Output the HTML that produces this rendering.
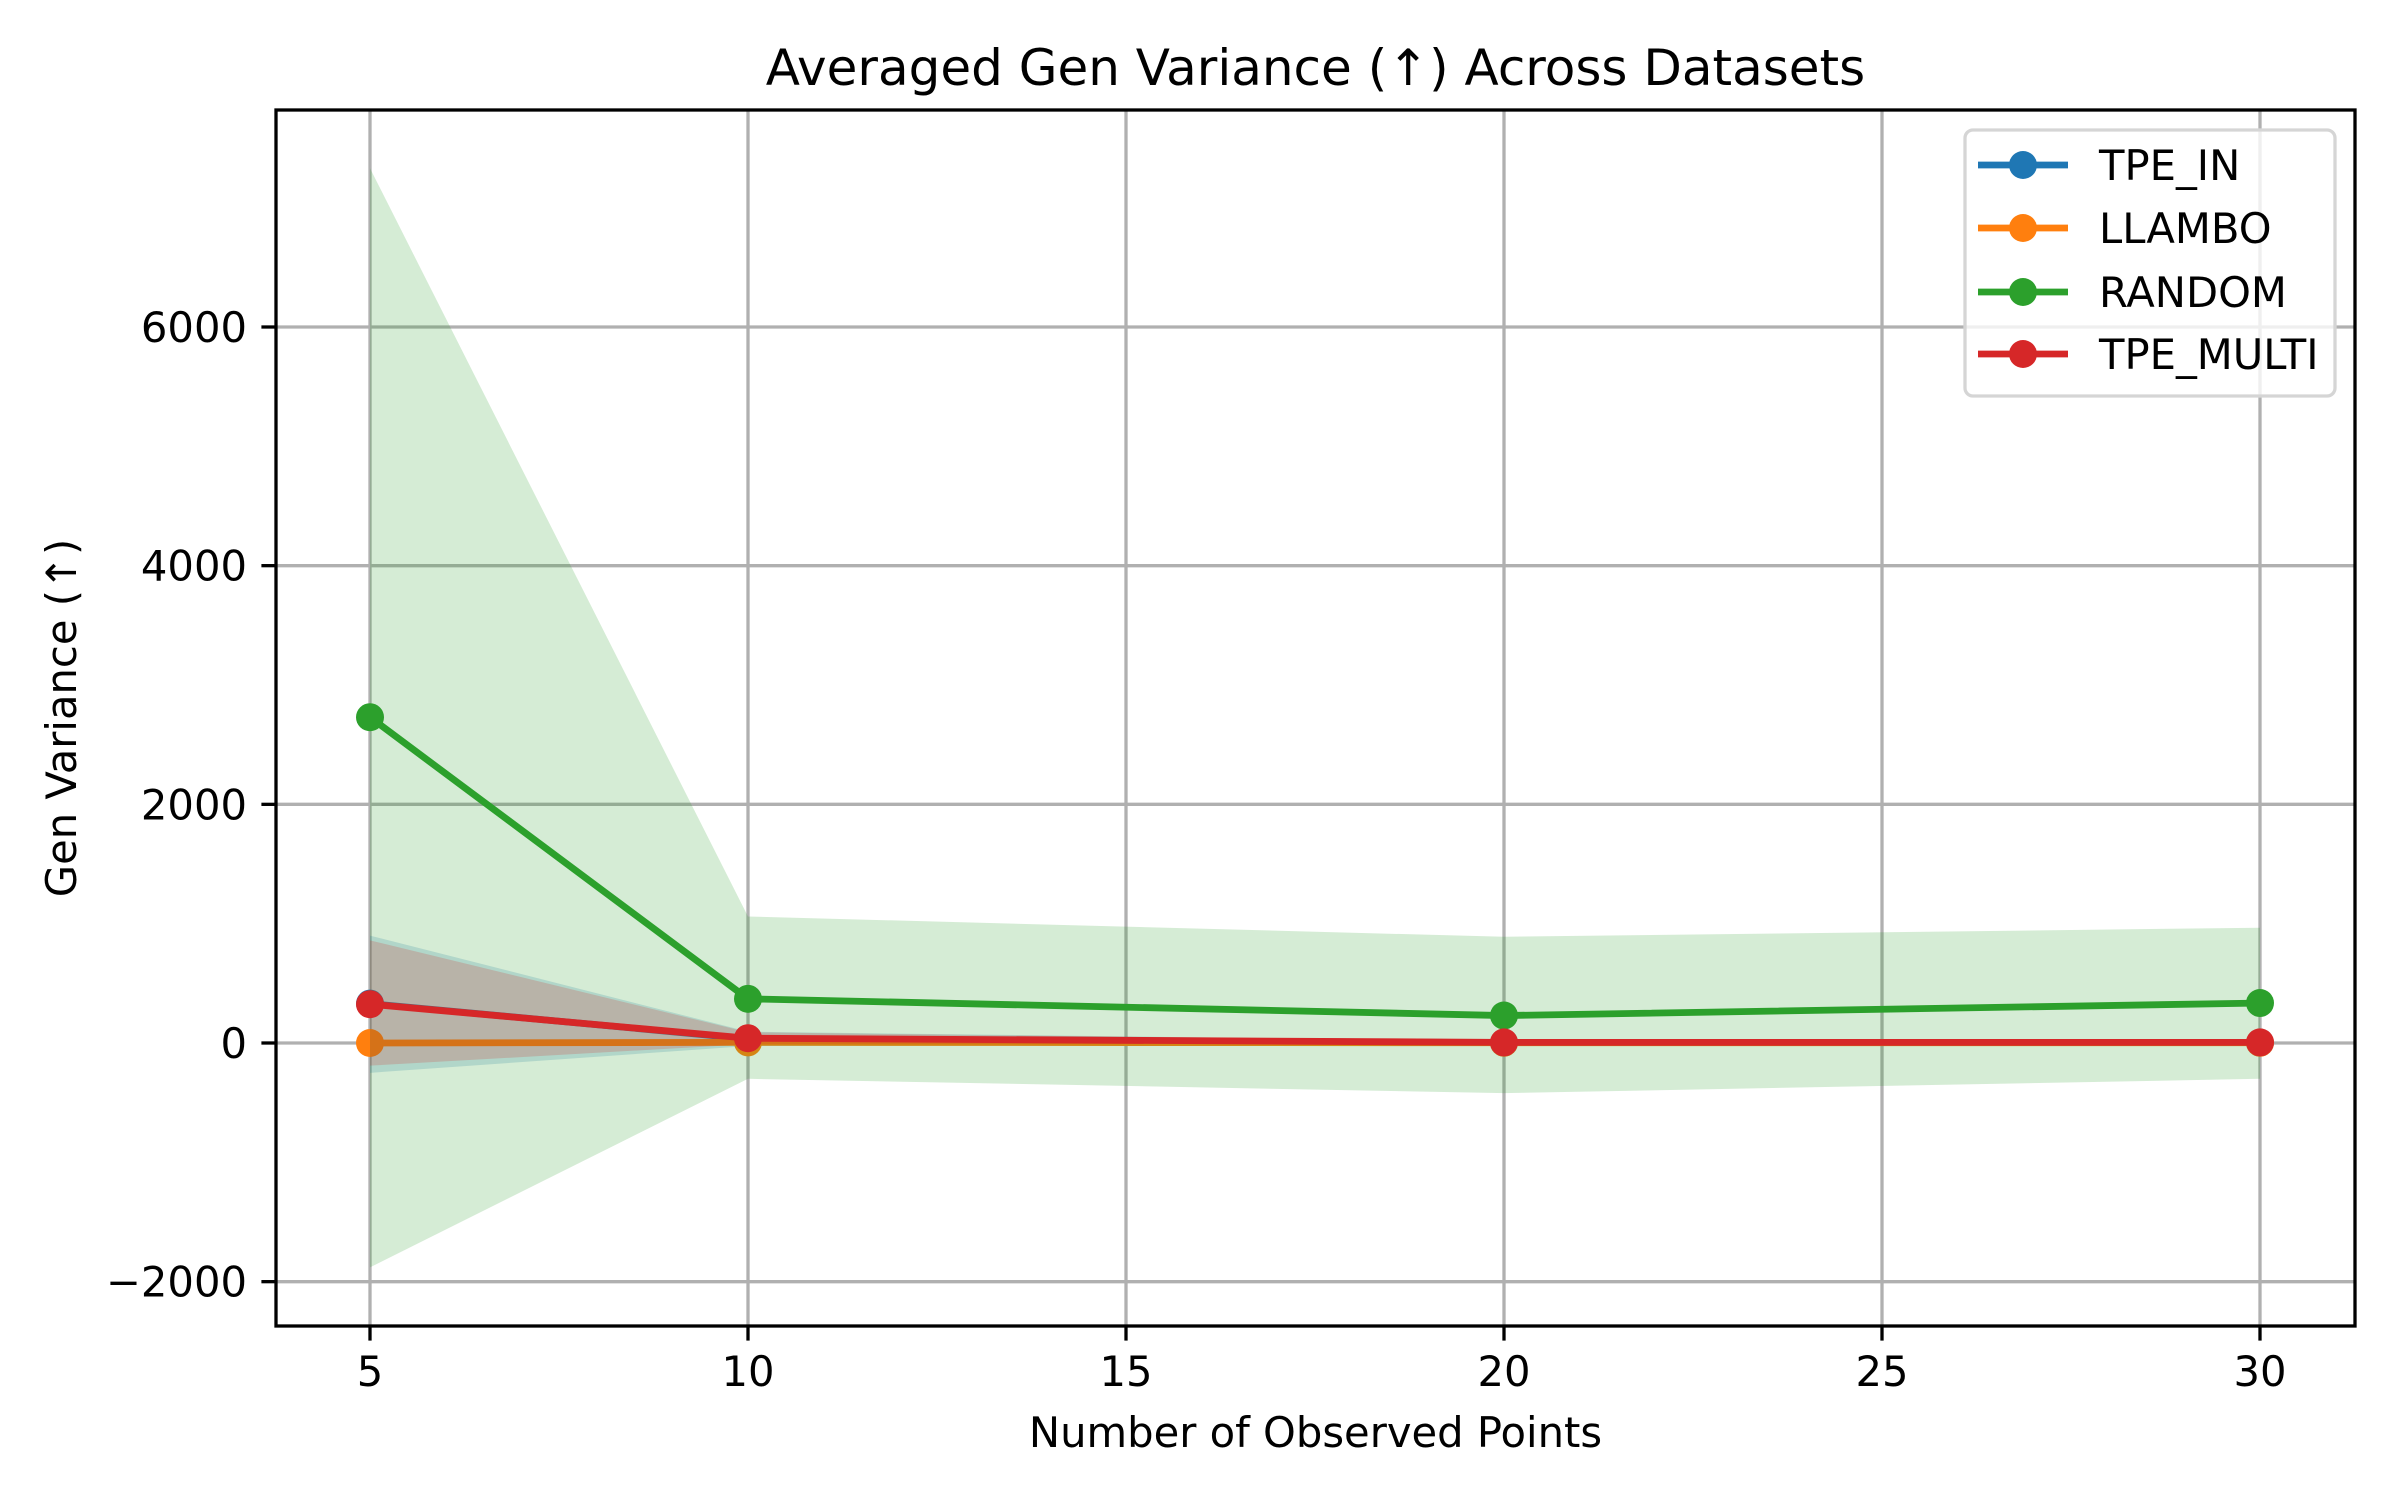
<!DOCTYPE html>
<html><head><meta charset="utf-8"><style>
html,body{margin:0;padding:0;background:#fff}
svg{display:block}
text{font-family:"DejaVu Sans","Liberation Sans",sans-serif;fill:#000}
</style></head><body>
<svg id="chart" width="2400" height="1500" viewBox="0 0 2400 1500" xmlns="http://www.w3.org/2000/svg"></svg>
<script>
const xValues = [5, 10, 20, 30];
const seriesNames = ["TPE_IN", "LLAMBO", "RANDOM", "TPE_MULTI"];
const tpeInMean = [330, 35, 3, 3];
const tpeInUpper = [900, 95, 15, 15];
const tpeInLower = [-250, -25, -9, -9];
const llamboMean = [0, 5, 2, 2];
const llamboUpper = [20, 25, 10, 10];
const llamboLower = [-20, -15, -6, -6];
const randomMean = [2730, 370, 230, 335];
const randomUpper = [7330, 1060, 890, 966];
const randomLower = [-1880, -300, -420, -300];
const tpeMultiMean = [325, 40, 5, 5];
const tpeMultiUpper = [860, 90, 15, 15];
const tpeMultiLower = [-190, -10, -5, -5];
const xTicks = [5, 10, 15, 20, 25, 30];
const yTicks = [-2000, 0, 2000, 4000, 6000];

const L=276,R=2355,T=110,B=1326;
const X0=370,X1=2260;
function sx(v){return X0+(v-5)*(X1-X0)/25;}
function sy(v){return 1043-v*(1043-327)/6000;}
const NS="http://www.w3.org/2000/svg";
const svg=document.getElementById('chart');
function mk(tag,attrs,parent){const e=document.createElementNS(NS,tag);for(const k in attrs)e.setAttribute(k,attrs[k]);(parent||svg).appendChild(e);return e;}

xTicks.forEach(t=>{
  const g=mk('line',{x1:sx(t),x2:sx(t),y1:T,y2:B,stroke:'#b0b0b0','stroke-width':3.3});
  
  
});
yTicks.forEach(t=>{
  const g=mk('line',{x1:L,x2:R,y1:sy(t),y2:sy(t),stroke:'#b0b0b0','stroke-width':3.3});
  
  
});

const colors=['#1f77b4','#ff7f0e','#2ca02c','#d62728'];
const means=[tpeInMean,llamboMean,randomMean,tpeMultiMean];
const uppers=[tpeInUpper,llamboUpper,randomUpper,tpeMultiUpper];
const lowers=[tpeInLower,llamboLower,randomLower,tpeMultiLower];
const clip=mk('clipPath',{id:'plotclip'});
mk('rect',{x:L,y:T,width:R-L,height:B-T},clip);
const plot=mk('g',{'clip-path':'url(#plotclip)'});
for(let s=0;s<4;s++){
  let pts=xValues.map((x,i)=>sx(x)+','+sy(uppers[s][i]));
  for(let i=xValues.length-1;i>=0;i--)pts.push(sx(xValues[i])+','+sy(lowers[s][i]));
  const band=mk('polygon',{points:pts.join(' '),fill:colors[s],'fill-opacity':0.2},plot);
  
  
  const line=mk('polyline',{points:xValues.map((x,i)=>sx(x)+','+sy(means[s][i])).join(' '),fill:'none',stroke:colors[s],'stroke-width':6.8,'stroke-linejoin':'round','stroke-linecap':'square'},plot);
  
  
  xValues.forEach((x,i)=>{
    const c=mk('circle',{cx:sx(x),cy:sy(means[s][i]),r:14,fill:colors[s]},plot);
    
    
  });
}

const frame=mk('rect',{x:L,y:T,width:R-L,height:B-T,fill:'none',stroke:'#000','stroke-width':3.3});



xTicks.forEach(t=>{
  mk('line',{x1:sx(t),x2:sx(t),y1:B,y2:B+14.6,stroke:'#000','stroke-width':3.3});
  const lb=mk('text',{x:sx(t),y:B+60,'font-size':41.7,'text-anchor':'middle'});
  lb.textContent=t;
  
  
});
yTicks.forEach(t=>{
  mk('line',{x1:L-14.6,x2:L,y1:sy(t),y2:sy(t),stroke:'#000','stroke-width':3.3});
  const lb=mk('text',{x:L-29,y:sy(t)+15,'font-size':41.7,'text-anchor':'end'});
  lb.textContent=t<0?'\u2212'+Math.abs(t):String(t);
  
  
});

const title=mk('text',{x:(L+R)/2,y:85,'font-size':50,'text-anchor':'middle'});
title.textContent='Averaged Gen Variance (\u2191) Across Datasets';


const xl=mk('text',{x:(L+R)/2,y:1447,'font-size':41.7,'text-anchor':'middle'});
xl.textContent='Number of Observed Points';


const yl=mk('text',{x:0,y:0,'font-size':41.7,'text-anchor':'middle',transform:'translate(76,'+(T+B)/2+') rotate(-90)'});
yl.textContent='Gen Variance (\u2191)';



const lg=mk('g',{});


mk('rect',{x:1965,y:130,width:370,height:266,rx:8,fill:'#fff','fill-opacity':0.8,stroke:'#d5d5d5','stroke-width':3.3},lg);
const rowY=[165,228,292,354];
for(let s=0;s<4;s++){
  const e=mk('g',{},lg);
  
  
  mk('line',{x1:1978,x2:2068,y1:rowY[s],y2:rowY[s],stroke:colors[s],'stroke-width':6.8},e);
  mk('circle',{cx:2023,cy:rowY[s],r:14,fill:colors[s]},e);
  const t=mk('text',{x:2099,y:rowY[s]+15,'font-size':41.7},e);
  t.textContent=seriesNames[s];
}
</script>
</body></html>
